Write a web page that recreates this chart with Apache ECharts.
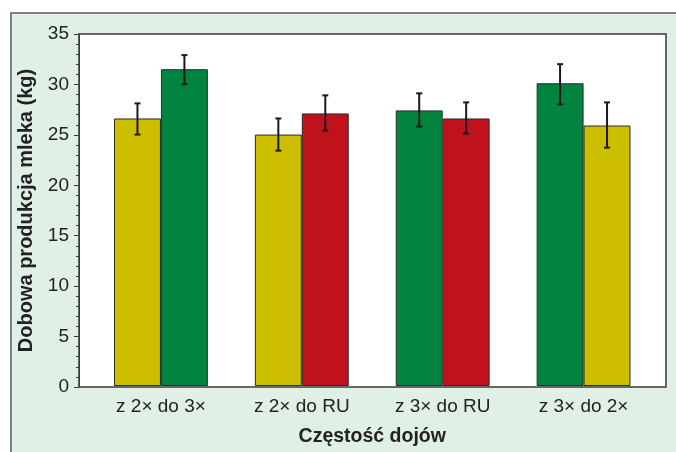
<!DOCTYPE html>
<html><head><meta charset="utf-8">
<script src="https://cdn.jsdelivr.net/npm/echarts@6/dist/echarts.min.js"></script>
<style>html,body{margin:0;padding:0;background:#fff}#c{width:676px;height:452px}</style>
</head><body><div id="c"></div>
<script>
var categories = ['z 2× do 3×', 'z 2× do RU', 'z 3× do RU', 'z 3× do 2×'];
var leftValues = [26.6, 25.0, 27.4, 30.1];
var rightValues = [31.5, 27.1, 26.6, 25.9];
var leftErrLow = [25.0, 23.4, 25.8, 28.0];
var leftErrHigh = [28.1, 26.6, 29.1, 32.0];
var rightErrLow = [30.0, 25.4, 25.1, 23.7];
var rightErrHigh = [32.9, 28.9, 28.2, 28.2];
var yTicks = [0, 5, 10, 15, 20, 25, 30, 35];
var YELLOW = '#cdbe00', GREEN = '#00843f', RED = '#c0121c';
var leftColors = [YELLOW, YELLOW, GREEN, GREEN];
var rightColors = [GREEN, RED, RED, YELLOW];

var chart = echarts.init(document.getElementById('c'), null, {renderer: 'canvas'});
var FONT = 'Liberation Sans';

function errData(lo, hi, side) {
  return categories.map(function (c, i) { return [i, lo[i], hi[i], side]; });
}
function renderErr(params, api) {
  var i = api.value(0), side = api.value(3);
  var band = api.size([1, 0])[0];
  var off = side * band / 6;
  var p1 = api.coord([i, api.value(1)]);
  var p2 = api.coord([i, api.value(2)]);
  var x = p1[0] + off, cap = 3;
  var st = {stroke: '#1a1a1a', lineWidth: 2};
  return {type: 'group', children: [
    {type: 'line', shape: {x1: x, y1: p1[1], x2: x, y2: p2[1]}, style: st},
    {type: 'line', shape: {x1: x - cap, y1: p1[1], x2: x + cap, y2: p1[1]}, style: st},
    {type: 'line', shape: {x1: x - cap, y1: p2[1], x2: x + cap, y2: p2[1]}, style: st}
  ]};
}

chart.setOption({
  animation: false,
  backgroundColor: '#ffffff',
  graphic: [{type: 'rect', left: 10, top: 12, z: -10,
    shape: {width: 720, height: 500},
    style: {fill: '#e1f0e6', stroke: '#808080', lineWidth: 2}}],
  grid: [
    {left: 79, right: 10, top: 34, bottom: 65, show: true, backgroundColor: '#ffffff', borderColor: '#3a3a3a', borderWidth: 1.5, z: 0},
    {left: 90.5, right: 22, top: 34, bottom: 65}
  ],
  xAxis: [
    {gridIndex: 0, type: 'category', data: categories, show: false},
    {gridIndex: 1, type: 'category', data: categories,
     axisLine: {show: false}, axisTick: {show: false},
     axisLabel: {color: '#222', fontFamily: FONT, fontSize: 19, margin: 11},
     name: 'Częstość dojów', nameLocation: 'middle', nameGap: 41,
     nameTextStyle: {color: '#222', fontFamily: FONT, fontSize: 19.5, fontWeight: 'bold'}}
  ],
  yAxis: [
    {gridIndex: 0, type: 'value', min: 0, max: 35, interval: 5,
     axisLine: {show: true, lineStyle: {color: '#3a3a3a', width: 1}},
     axisTick: {show: true, length: 5, lineStyle: {color: '#3a3a3a'}},
     minorTick: {show: true, splitNumber: 5, length: 3, lineStyle: {color: '#3a3a3a'}},
     splitLine: {show: false},
     axisLabel: {color: '#222', fontFamily: FONT, fontSize: 19, margin: 10,
       formatter: function (v) { return yTicks.indexOf(v) >= 0 ? String(v) : ''; }},
     name: 'Dobowa produkcja mleka (kg)', nameLocation: 'middle', nameGap: 37,
     nameTextStyle: {color: '#222', fontFamily: FONT, fontSize: 20, fontWeight: 'bold'}},
    {gridIndex: 1, type: 'value', min: 0, max: 35, show: false, splitLine: {show: false}}
  ],
  series: [
    {type: 'bar', xAxisIndex: 1, yAxisIndex: 1, barWidth: '33.3%', barGap: '0%',
     data: leftValues.map(function (v, i) { return {value: v, itemStyle: {color: leftColors[i]}}; }),
     itemStyle: {borderColor: '#2a2a2a', borderWidth: 1}, z: 2},
    {type: 'bar', xAxisIndex: 1, yAxisIndex: 1, barWidth: '33.3%', barGap: '0%',
     data: rightValues.map(function (v, i) { return {value: v, itemStyle: {color: rightColors[i]}}; }),
     itemStyle: {borderColor: '#2a2a2a', borderWidth: 1}, z: 2},
    {type: 'custom', xAxisIndex: 1, yAxisIndex: 1, renderItem: renderErr, z: 5,
     encode: {x: 0, y: [1, 2]}, data: errData(leftErrLow, leftErrHigh, -1)},
    {type: 'custom', xAxisIndex: 1, yAxisIndex: 1, renderItem: renderErr, z: 5,
     encode: {x: 0, y: [1, 2]}, data: errData(rightErrLow, rightErrHigh, 1)}
  ]
});
</script></body></html>
